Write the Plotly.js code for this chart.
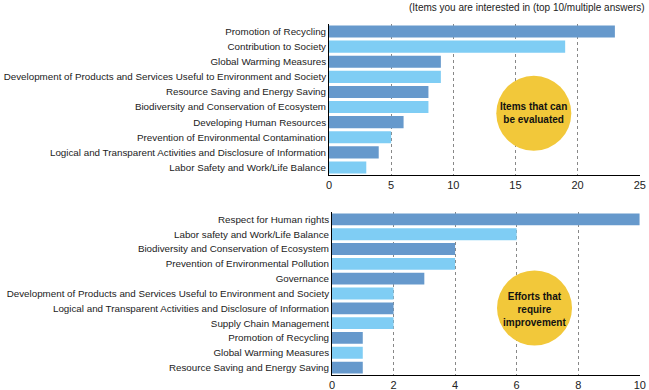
<!DOCTYPE html>
<html><head><meta charset="utf-8">
<script src="https://cdn.plot.ly/plotly-3.0.1.min.js"></script>
<style>html,body{margin:0;padding:0;background:#fff}#c{width:649px;height:390px}</style>
</head><body><div id="c"></div>
<script>
const topCats = ["Promotion of Recycling","Contribution to Society","Global Warming Measures","Development of Products and Services Useful to Environment and Society","Resource Saving and Energy Saving","Biodiversity and Conservation of Ecosystem","Developing Human Resources","Prevention of Environmental Contamination","Logical and Transparent Activities and Disclosure of Information","Labor Safety and Work/Life Balance"];
const topVals = [23,19,9,9,8,8,6,5,4,3];
const botCats = ["Respect for Human rights","Labor safety and Work/Life Balance","Biodiversity and Conservation of Ecosystem","Prevention of Environmental Pollution","Governance","Development of Products and Services Useful to Environment and Society","Logical and Transparent Activities and Disclosure of Information","Supply Chain Management","Promotion of Recycling","Global Warming Measures","Resource Saving and Energy Saving"];
const botVals = [10,6,4,4,3,2,2,2,1,1,1];
const topTicks = [0,5,10,15,20,25];
const botTicks = [0,2,4,6,8,10];

const dark = "#6699CC", light = "#7FCDF4";
const alt = n => Array.from({length:n},(_,i)=> i%2===0 ? dark : light);

const F = "Liberation Sans, Arial, sans-serif";
const traces = [
  {type:"bar", orientation:"h", x:topVals, y:topCats, xaxis:"x", yaxis:"y",
   marker:{color:alt(topVals.length)}, hoverinfo:"none"},
  {type:"bar", orientation:"h", x:botVals, y:botCats, xaxis:"x2", yaxis:"y2",
   marker:{color:alt(botVals.length)}, hoverinfo:"none"}
];
const xa = (ticks, dom, anchor) => ({domain:dom, anchor:anchor, range:[0, ticks[ticks.length-1]], tickvals:ticks,
  showgrid:true, gridcolor:"#888888", griddash:"3px,3px", gridwidth:1, zeroline:false,
  showline:true, linecolor:"#000", linewidth:1, ticks:"", tickfont:{family:F,size:11,color:"#222"}, fixedrange:true});
const ya = (dom, anchor) => ({domain:dom, anchor:anchor, type:"category", autorange:"reversed",
  showline:true, linecolor:"#000", linewidth:1, ticks:"", showgrid:false,
  tickfont:{family:F,size:9.8,color:"#222"}, fixedrange:true});

const layout = {
  width:649, height:390, margin:{l:329, r:8, t:0, b:0},
  paper_bgcolor:"#fff", plot_bgcolor:"#fff", showlegend:false, bargap:0.2,
  xaxis: xa(topTicks,[0,0.996],"y"),
  yaxis: ya([0.5513,0.9385],"x"),
  xaxis2: xa(botTicks,[0.0096,0.996],"y2"),
  yaxis2: ya([0.0385,0.4564],"x2"),
  shapes:[
    {type:"circle", xref:"paper", yref:"paper", xsizemode:"pixel", ysizemode:"pixel",
     xanchor:0.6564, yanchor:0.7095, x0:-37.5, x1:37.5, y0:-37.5, y1:37.5, fillcolor:"#F2C83A", line:{width:0}},
    {type:"circle", xref:"paper", yref:"paper", xsizemode:"pixel", ysizemode:"pixel",
     xanchor:0.6587, yanchor:0.2103, x0:-37.5, x1:37.5, y0:-37.5, y1:37.5, fillcolor:"#F2C83A", line:{width:0}}
  ],
  annotations:[
    {xref:"paper", yref:"paper", x:0.6564, y:0.7095, xanchor:"center", yanchor:"middle",
     text:"<b>Items that can<br>be evaluated</b>", showarrow:false,
     font:{family:F,size:10,color:"#111"}},
    {xref:"paper", yref:"paper", x:0.6587, y:0.2075, xanchor:"center", yanchor:"middle",
     text:"<b>Efforts that<br>require<br>improvement</b>", showarrow:false,
     font:{family:F,size:10,color:"#111"}},
    {xref:"paper", yref:"paper", x:1.02, y:1, xanchor:"right", yanchor:"top",
     text:"(Items you are interested in (top 10/multiple answers)", showarrow:false,
     font:{family:F,size:10,color:"#222"}}
  ]
};
Plotly.newPlot("c", traces, layout, {staticPlot:true, displayModeBar:false});
</script></body></html>
